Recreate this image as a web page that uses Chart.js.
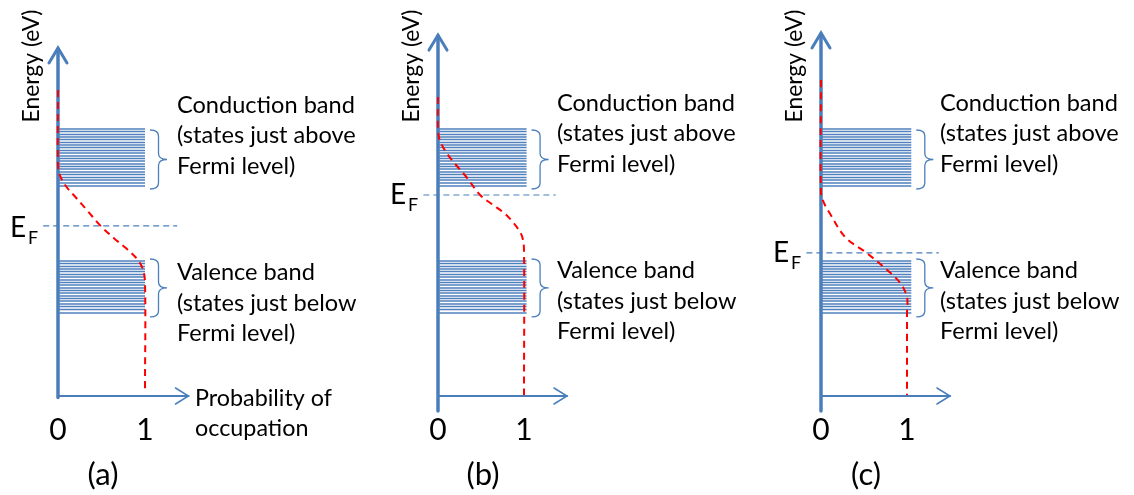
<!DOCTYPE html>
<html>
<head>
<meta charset="utf-8">
<script src="https://cdn.jsdelivr.net/npm/chart.js@4.4.1/dist/chart.umd.min.js"></script>
<style>
  body { margin: 0; background: #fff; width: 1134px; height: 495px; overflow: hidden; position: relative; }
  canvas { position: absolute; top: 0; }
</style>
</head>
<body>
<canvas id="panel0" width="378" height="495" style="left:0px"></canvas>
<canvas id="panel1" width="378" height="495" style="left:378px"></canvas>
<canvas id="panel2" width="378" height="495" style="left:756px"></canvas>
<script>
// --- data (x = probability of occupation, y = energy, arbitrary eV units) ---
const panelNames = ['(a)', '(b)', '(c)'];
const xTicks = [0, 1];
const conductionLevels = [8.90, 8.82, 8.72, 8.63, 8.55, 8.45, 8.37, 8.28, 8.18, 8.10, 8.00,
                          7.92, 7.83, 7.73, 7.65, 7.57, 7.47, 7.38, 7.28, 7.20, 7.10, 7.00];
const valenceLevels = [4.50, 4.42, 4.32, 4.23, 4.15, 4.05, 3.97, 3.87, 3.78, 3.70,
                       3.60, 3.52, 3.43, 3.33, 3.25, 3.17, 3.07, 2.98, 2.88, 2.77];
const bandEnds = [1.0, 1.03, 1.05];
const fermiLevels = [5.67, 6.70, 4.77];
const fermiSpan = [-0.17, 1.37];
// occupation curve f(E): [probability, energy]
const occupationA = [[0, 10.2], [0, 7.7], [0.02, 7.37], [0.09, 7.0], [0.21, 6.6], [0.34, 6.17], [0.49, 5.67],
                     [0.64, 5.27], [0.78, 4.93], [0.90, 4.6], [0.97, 4.27], [1.0, 3.8], [1.0, 0.2]];
const occupationB = [[0, 9.97], [0, 8.87], [0.02, 8.53], [0.10, 8.10], [0.21, 7.70], [0.33, 7.30], [0.49, 6.70],
                     [0.64, 6.37], [0.78, 6.07], [0.87, 5.80], [0.94, 5.53], [0.98, 5.30], [1.0, 4.87], [1.0, 0.03]];
const occupationC = [[0, 10.53], [0, 6.77], [0.04, 6.40], [0.10, 6.10], [0.28, 5.30], [0.53, 4.77],
                     [0.77, 4.20], [0.92, 3.77], [1.0, 3.30], [1.0, 2.77], [1.0, 0.03]];
const occupation = [occupationA, occupationB, occupationC];
const conductionText = ['Conduction band', '(states just above', 'Fermi level)'];
const valenceText = ['Valence band', '(states just below', 'Fermi level)'];
const energyTitle = 'Energy (eV)';
const probabilityTitle = ['Probability of', 'occupation'];

// --- layout ---
const FONT = 'Lato, "Open Sans", sans-serif';
const BLUE = '#4a7ebb';
const panels = [
  { axisX: 58, ppu: 87, yTop: 11.6, yBottom: -0.05, textShift: 2 },
  { axisX: 60, ppu: 86, yTop: 12.03, yBottom: -0.5, textShift: 0 },
  { axisX: 65, ppu: 86, yTop: 12.1, yBottom: -0.5, textShift: 0 }
];

function fitSize(ctx, text, width) {
  ctx.font = '100px ' + FONT;
  return 100 * width / ctx.measureText(text).width;
}

function drawBrace(ctx, xl, xr, top, bottom) {
  const xm = (xl + xr) / 2, mid = (top + bottom) / 2, r = 6;
  ctx.beginPath();
  ctx.moveTo(xl, top);
  ctx.quadraticCurveTo(xm, top, xm, top + r);
  ctx.lineTo(xm, mid - r);
  ctx.quadraticCurveTo(xm, mid, xr, mid);
  ctx.quadraticCurveTo(xm, mid, xm, mid + r);
  ctx.lineTo(xm, bottom - r);
  ctx.quadraticCurveTo(xm, bottom, xl, bottom);
  ctx.stroke();
}

function diagramPlugin(i) {
  const L = panels[i];
  return {
    id: 'diagram' + i,
    beforeDatasetsDraw(chart) {
      const ctx = chart.ctx, xs = chart.scales.x, ys = chart.scales.y;
      const x0 = xs.getPixelForValue(0), y0 = ys.getPixelForValue(0);
      const tipY = ys.getPixelForValue(L.yTop), tipX = xs.getPixelForValue(1.5);
      ctx.save();
      ctx.strokeStyle = BLUE;
      ctx.lineCap = 'round';
      // energy axis
      ctx.lineWidth = 3.5;
      ctx.beginPath();
      ctx.moveTo(x0, ys.getPixelForValue(L.yBottom));
      ctx.lineTo(x0, tipY + 1);
      ctx.stroke();
      ctx.lineWidth = 3;
      ctx.beginPath();
      ctx.moveTo(x0 - 9, tipY + 15);
      ctx.lineTo(x0, tipY);
      ctx.lineTo(x0 + 9, tipY + 15);
      ctx.stroke();
      // probability axis
      ctx.lineWidth = 2;
      ctx.beginPath();
      ctx.moveTo(x0, y0);
      ctx.lineTo(tipX, y0);
      ctx.stroke();
      ctx.lineWidth = 1.5;
      ctx.beginPath();
      ctx.moveTo(tipX - 13, y0 - 8);
      ctx.lineTo(tipX, y0);
      ctx.lineTo(tipX - 13, y0 + 8);
      ctx.stroke();
      ctx.restore();
    },
    afterDatasetsDraw(chart) {
      const ctx = chart.ctx, xs = chart.scales.x, ys = chart.scales.y;
      const x0 = xs.getPixelForValue(0);
      ctx.save();
      // braces
      const bx = xs.getPixelForValue(bandEnds[i]) + 5;
      ctx.strokeStyle = BLUE;
      ctx.lineWidth = 1.3;
      const cTop = ys.getPixelForValue(Math.max(...conductionLevels));
      const cBot = ys.getPixelForValue(Math.min(...conductionLevels));
      const vTop = ys.getPixelForValue(Math.max(...valenceLevels));
      const vBot = ys.getPixelForValue(Math.min(...valenceLevels));
      drawBrace(ctx, bx, bx + 17, cTop + 1, cBot + 3);
      drawBrace(ctx, bx, bx + 17, vTop - 2, vBot + 4);

      ctx.fillStyle = '#000';
      ctx.textAlign = 'left';
      ctx.textBaseline = 'middle';
      const body = fitSize(ctx, 'Conduction band', 178);
      ctx.font = body + 'px ' + FONT;
      const cMid = (cTop + cBot) / 2 - 24 + L.textShift;
      conductionText.forEach((t, k) => ctx.fillText(t, x0 + 119, cMid + (k - 1) * 30.5));
      const vMid = (vTop + vBot) / 2 + 14 + L.textShift;
      valenceText.forEach((t, k) => ctx.fillText(t, x0 + 119, vMid + (k - 1) * 30.5));

      // energy title
      const es = fitSize(ctx, energyTitle, 113);
      ctx.font = es + 'px ' + FONT;
      ctx.save();
      ctx.translate(x0 - 26, 66);
      ctx.rotate(-Math.PI / 2);
      ctx.textAlign = 'center';
      ctx.fillText(energyTitle, 0, 0);
      ctx.restore();

      // E_F label
      const ef = ys.getPixelForValue(fermiLevels[i]);
      ctx.textBaseline = 'alphabetic';
      ctx.font = '28px ' + FONT;
      ctx.fillText('E', x0 - 48, ef + 9 + L.textShift);
      ctx.font = '18px ' + FONT;
      ctx.fillText('F', x0 - 30, ef + 16 + L.textShift);

      // panel name
      ctx.textAlign = 'center';
      ctx.textBaseline = 'middle';
      ctx.font = '31px ' + FONT;
      ctx.fillText(panelNames[i], x0 + 45, 475);

      if (i === 0) {
        const ps = fitSize(ctx, probabilityTitle[0], 137);
        ctx.font = ps + 'px ' + FONT;
        ctx.textAlign = 'left';
        ctx.fillText(probabilityTitle[0], x0 + 137, 398);
        ctx.fillText(probabilityTitle[1], x0 + 137, 428);
      }
      ctx.restore();
    }
  };
}

function makeChart(i) {
  const L = panels[i];
  const datasets = [];
  datasets.push({
    data: occupation[i].map(([x, y]) => ({ x, y })),
    borderColor: '#ff0000', borderWidth: 2, borderDash: [7, 5], tension: 0.35
  });
  datasets.push({
    data: fermiSpan.map(x => ({ x, y: fermiLevels[i] })),
    borderColor: BLUE, borderWidth: 1.2, borderDash: [6, 4], tension: 0
  });
  conductionLevels.concat(valenceLevels).forEach(e => {
    datasets.push({
      data: [{ x: 0, y: e }, { x: bandEnds[i], y: e }],
      borderColor: '#4f81bd', borderWidth: 1.5, tension: 0
    });
  });

  new Chart(document.getElementById('panel' + i), {
    type: 'line',
    data: { datasets },
    options: {
      responsive: false,
      animation: false,
      events: [],
      layout: { padding: 0 },
      elements: { point: { radius: 0 } },
      plugins: { legend: { display: false }, tooltip: { enabled: false } },
      scales: {
        x: {
          type: 'linear',
          min: -L.axisX / L.ppu,
          max: (378 - L.axisX) / L.ppu,
          position: { y: 0 },
          grid: { display: false, drawTicks: false },
          border: { display: false },
          afterBuildTicks: axis => { axis.ticks = xTicks.map(v => ({ value: v })); },
          ticks: { padding: 16, color: '#000', autoSkip: false, maxRotation: 0,
                   font: { family: FONT, size: 30 }, callback: v => String(v) }
        },
        y: { type: 'linear', min: -3.3, max: 13.2, display: false }
      }
    },
    plugins: [diagramPlugin(i)]
  });
}

[0, 1, 2].forEach(makeChart);
</script>
</body>
</html>
